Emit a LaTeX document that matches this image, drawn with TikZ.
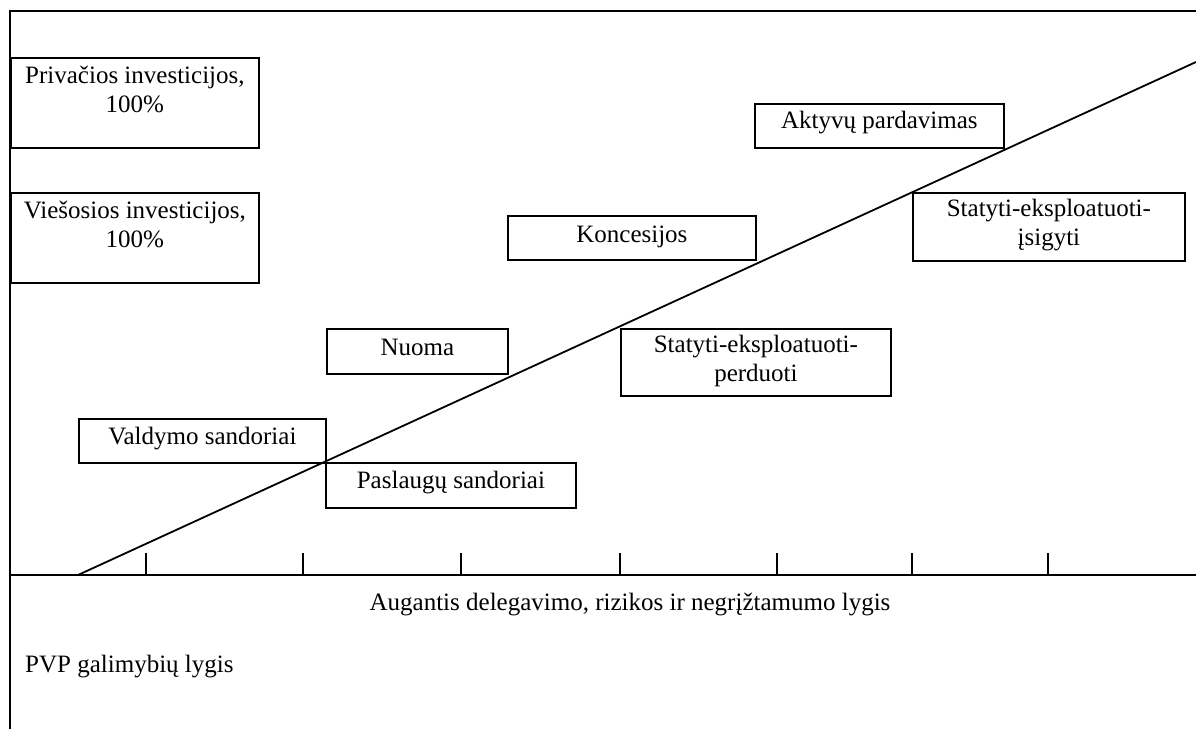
\documentclass[tikz,border=0pt]{standalone}
\usepackage{fontspec}
\setmainfont{Liberation Serif}
\begin{document}
\begin{tikzpicture}[x=1pt,y=-1pt,
  box/.style={draw, line width=1.8pt, inner sep=0pt, anchor=north west},
  lbl/.style={font=\fontsize{25}{29}\selectfont, inner sep=0pt, align=center, anchor=base},
  frame/.style={line width=2.8pt},
  thin/.style={line width=1.8pt}]
\useasboundingbox (0,0) rectangle (1196,729);
\fill[white] (0,0) rectangle (1196,729);
% frame and axis
\coordinate (tl) at (10,11);
\coordinate (tr) at (1196,11);
\coordinate (bl) at (10,729);
\coordinate (al) at (10,575);
\coordinate (ar) at (1196,575);
\draw[frame] (bl) -- (tl) -- (tr);
\draw[thin] (al) -- (ar);
\foreach \x in {146,303,461,620,777,912,1048} \draw[thin] (\x,575) -- (\x,553);
% diagonal
\coordinate (d0) at (78,575);
\coordinate (d1) at (1196,62);
\draw[thin] (d0) -- (d1);
% boxes
\node[box, minimum width=248pt, minimum height=90pt] (priv) at (10,57) {};
\node[box, minimum width=248pt, minimum height=90pt] (vies) at (10,192) {};
\node[box, minimum width=249pt, minimum height=44pt] (akt) at (754,103) {};
\node[box, minimum width=272pt, minimum height=68pt] (sei) at (912,192) {};
\node[box, minimum width=248pt, minimum height=44pt] (konc) at (507,215) {};
\node[box, minimum width=181pt, minimum height=45pt] (nuo) at (326,328) {};
\node[box, minimum width=270pt, minimum height=67pt] (sep) at (620,328) {};
\node[box, minimum width=247pt, minimum height=44pt] (vald) at (78,418) {};
\node[box, minimum width=250pt, minimum height=45pt] (pasl) at (325,462) {};
% labels (base of a two-line label is its second line)
\node[lbl] (tpriv) at ([yshift=-55pt]priv.north) {Privačios investicijos,\\100\%};
\node[lbl] (tvies) at ([yshift=-55pt]vies.north) {Viešosios investicijos,\\100\%};
\node[lbl] (takt) at ([yshift=-25pt]akt.north) {Aktyvų pardavimas};
\node[lbl] (tsei) at ([yshift=-53pt]sei.north) {Statyti-eksploatuoti-\\įsigyti};
\node[lbl] (tkonc) at ([yshift=-27pt]konc.north) {Koncesijos};
\node[lbl] (tnuo) at ([yshift=-27pt]nuo.north) {Nuoma};
\node[lbl] (tsep) at ([yshift=-53pt]sep.north) {Statyti-eksploatuoti-\\perduoti};
\node[lbl] (tvald) at ([yshift=-26pt]vald.north) {Valdymo sandoriai};
\node[lbl] (tpasl) at ([yshift=-26pt]pasl.north) {Paslaugų sandoriai};
\node[lbl] (axl) at (630,610) {Augantis delegavimo, rizikos ir negrįžtamumo lygis};
\node[lbl, anchor=base west] (pvp) at (25,672) {PVP galimybių lygis};
\end{tikzpicture}
\end{document}
